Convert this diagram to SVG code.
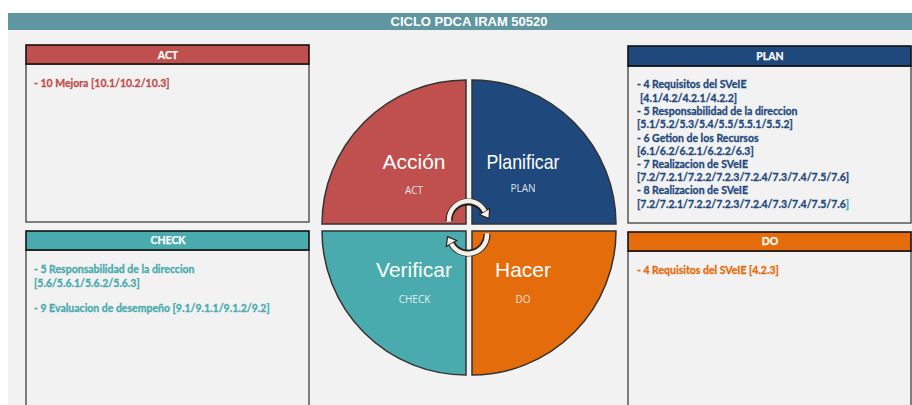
<svg xmlns="http://www.w3.org/2000/svg" width="912" height="405" viewBox="0 0 912 405">
<style>
.hdr{stroke:#111;stroke-width:1.6}
.body{fill:#f2f2f2;stroke:#404040;stroke-width:1.3}
.ht{font-family:Lato,"Open Sans",sans-serif;font-weight:bold;font-size:10.5px;fill:#fff;stroke:#fff;stroke-width:0.25;text-anchor:middle}
.bt{font-family:Lato,"Open Sans",sans-serif;font-weight:bold;font-size:10.5px;stroke-width:0.3}
.pie{stroke:#333;stroke-width:1.5}
.big{font-family:"Liberation Sans",Arial,sans-serif;font-size:21px;fill:#fff;text-anchor:middle}
.sm{font-family:"Open Sans",sans-serif;font-size:10px;fill:#fff;fill-opacity:0.85;text-anchor:middle}
.bandO{fill:none;stroke:#222;stroke-width:7}
.bandI{fill:none;stroke:#f5f1e6;stroke-width:4.4}
.head{fill:#f5f1e6;stroke:#222;stroke-width:1.2;stroke-linejoin:miter}
</style>
<rect x="0" y="0" width="912" height="405" fill="#ffffff"/>
<rect x="8" y="30" width="904" height="375" fill="#f2f2f2"/>
<g id="title">
<rect x="8" y="13" width="904" height="17" fill="#5f96a0"/>
<text x="469" y="26" font-family="'Liberation Sans',Arial,sans-serif" font-weight="bold" font-size="13" fill="#fff" text-anchor="middle">CICLO PDCA IRAM 50520</text>
</g>
<g id="act-box">
<rect class="body" x="26" y="64" width="283" height="158"/>
<rect class="hdr" x="26" y="45" width="283" height="19" fill="#c0504d"/>
<text class="ht" x="168" y="59">ACT</text>
<text class="bt" x="34" y="87" fill="#c0504d" stroke="#c0504d">- 10 Mejora [10.1/10.2/10.3]</text>
</g>
<g id="plan-box">
<rect class="body" x="628" y="66" width="283" height="157"/>
<rect class="hdr" x="628" y="46" width="283" height="20" fill="#1f497d"/>
<text class="ht" x="770" y="60">PLAN</text>
<g class="bt" fill="#1f497d" stroke="#1f497d">
<text x="637" y="88">- 4 Requisitos del SVeIE</text>
<text x="640" y="101.5">[4.1/4.2/4.2.1/4.2.2]</text>
<text x="637" y="115">- 5 Responsabilidad de la direccion</text>
<text x="637" y="128">[5.1/5.2/5.3/5.4/5.5/5.5.1/5.5.2]</text>
<text x="637" y="141.5">- 6 Getion de los Recursos</text>
<text x="637" y="154.5">[6.1/6.2/6.2.1/6.2.2/6.3]</text>
<text x="637" y="167.7">- 7 Realizacion de SVeIE</text>
<text x="637" y="181">[7.2/7.2.1/7.2.2/7.2.3/7.2.4/7.3/7.4/7.5/7.6]</text>
<text x="637" y="194">- 8 Realizacion de SVeIE</text>
<text x="637" y="207.5">[7.2/7.2.1/7.2.2/7.2.3/7.2.4/7.3/7.4/7.5/7.6<tspan fill="#4aabae" stroke="#4aabae">]</tspan></text>
</g>
</g>
<g id="check-box">
<rect class="body" x="26" y="250" width="283" height="160"/>
<rect class="hdr" x="26" y="231" width="283" height="19" fill="#4aabae"/>
<text class="ht" x="168" y="244">CHECK</text>
<g class="bt" fill="#4aabae" stroke="#4aabae">
<text x="34" y="273">- 5 Responsabilidad de la direccion</text>
<text x="34" y="287">[5.6/5.6.1/5.6.2/5.6.3]</text>
<text x="34" y="312">- 9 Evaluacion de desempeño [9.1/9.1.1/9.1.2/9.2]</text>
</g>
</g>
<g id="do-box">
<rect class="body" x="628" y="251" width="283" height="160"/>
<rect class="hdr" x="628" y="232" width="283" height="19" fill="#e46c0a"/>
<text class="ht" x="770" y="245">DO</text>
<text class="bt" x="637" y="274" fill="#e46c0a" stroke="#e46c0a">- 4 Requisitos del SVeIE [4.2.3]</text>
</g>
<g id="pie-act">
<path class="pie" d="M466,224 L322,224 A144,144 0 0 1 466,80 Z" fill="#c0504d"/>
<text class="big" x="414" y="169">Acción</text>
<text class="sm" x="414" y="194">ACT</text>
</g>
<g id="pie-plan">
<path class="pie" d="M472,224 L472,80 A144,144 0 0 1 616,224 Z" fill="#1f497d"/>
<text class="big" x="523" y="169" textLength="73" lengthAdjust="spacingAndGlyphs">Planificar</text>
<text class="sm" x="523" y="192">PLAN</text>
</g>
<g id="pie-check">
<path class="pie" d="M466,231 L466,375 A144,144 0 0 1 322,231 Z" fill="#4aabae"/>
<text class="big" x="414" y="277">Verificar</text>
<text class="sm" x="414.5" y="303">CHECK</text>
</g>
<g id="pie-do">
<path class="pie" d="M472,231 L616,231 A144,144 0 0 1 472,375 Z" fill="#e46c0a"/>
<text class="big" x="523" y="277">Hacer</text>
<text class="sm" x="523" y="303">DO</text>
</g>
<g id="connectors">
<path class="bandO" d="M449,221 A19,19 0 0 1 484.5,211.5"/>
<polygon class="head" points="489,218.6 489.7,208.5 479.3,214.5"/>
<path class="bandI" d="M449,221.7 A19,19 0 0 1 484.8,211.3"/>
<path class="bandO" d="M487,234 A19,19 0 0 1 451.5,243.5"/>
<polygon class="head" points="447.5,236.6 456.7,240.5 446.3,246.5"/>
<path class="bandI" d="M487,233.3 A19,19 0 0 1 451.3,243.7"/>
</g>
</svg>
